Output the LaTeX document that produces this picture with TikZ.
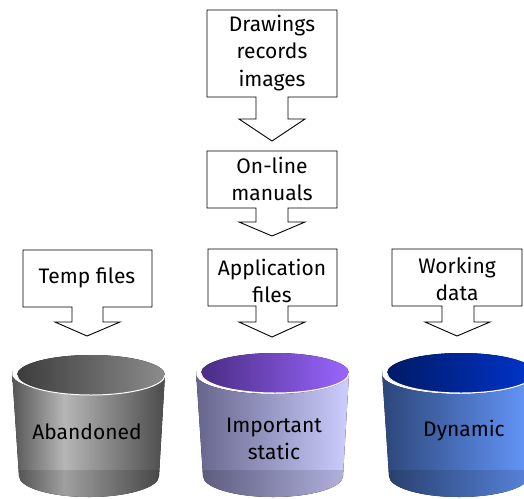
\documentclass[tikz,border=0pt]{standalone}
\usepackage{fontspec}
\setmainfont{Fira Sans}
\definecolor{gray1}{HTML}{555555}
\definecolor{gray2}{HTML}{B6B6B6}
\definecolor{gray3}{HTML}{4C4C4C}
\definecolor{graytopL}{HTML}{3C3C3C}
\definecolor{graytopR}{HTML}{8C8C8C}
\definecolor{purp1}{HTML}{66668C}
\definecolor{purp2}{HTML}{CDCDFF}
\definecolor{purptopL}{HTML}{4A2C84}
\definecolor{purptopR}{HTML}{9A66FF}
\definecolor{blue1}{HTML}{2C4678}
\definecolor{blue2}{HTML}{6699FF}
\definecolor{bluetopL}{HTML}{001A66}
\definecolor{bluetopR}{HTML}{0034CC}
\pgfdeclarehorizontalshading{graybody}{100bp}{color(0bp)=(gray1);color(25bp)=(gray1);color(42bp)=(gray2);color(75bp)=(gray3);color(100bp)=(gray3)}
\pgfdeclarehorizontalshading{purpbody}{100bp}{color(0bp)=(purp1);color(25bp)=(purp1);color(75bp)=(purp2);color(100bp)=(purp2)}
\pgfdeclarehorizontalshading{bluebody}{100bp}{color(0bp)=(blue1);color(25bp)=(blue1);color(75bp)=(blue2);color(100bp)=(blue2)}
\tikzset{
  callout/.style={draw=black, line width=0.9pt, fill=white, line join=miter},
  lbl/.style={font=\fontsize{21}{27.5}\selectfont, align=center, text=black, inner sep=0pt},
  rimline/.style={draw=white, line width=1pt},
  shade/.style={fill=black, fill opacity=0.12}
}
% #1 body cx, #2 ellipse cx, #3 ellipse cy, #4 body shading, #5 top left colour, #6 top right colour
\newcommand\drawbucket[6]{%
  \fill[shading=#4] (#1-77,371) -- (#1-70,476)
     arc[start angle=180, end angle=0, x radius=70, y radius=21]
     -- (#1+76,374) arc[start angle=0, end angle=180, x radius=76.5, y radius=20] -- cycle;
  \fill[shade] (#1-70.5,470) -- (#1-70,476)
     arc[start angle=180, end angle=0, x radius=70, y radius=21]
     -- (#1+70.5,470) -- cycle;
  \fill[left color=#5, right color=#6] (#2,#3) ellipse[x radius=74, y radius=20];
  \draw[rimline] (#2+74,#3) arc[start angle=0, end angle=180, x radius=74, y radius=20];
}
\begin{document}
\begin{tikzpicture}[x=1pt, y=-1pt]
\useasboundingbox (0,0) rectangle (524,498);
\begin{scope}
\clip (0,0) rectangle (524,498);
% callouts
\draw[callout] (207,10) -- (337,10) -- (337,97) -- (288,97) -- (288,119) -- (305,119) -- (272,141)
   -- (239,119) -- (256,119) -- (256,97) -- (207,97) -- cycle;
\draw[callout] (207,151) -- (337,151) -- (337,208) -- (288,208) -- (288,222) -- (305,222) -- (272,236)
   -- (239,222) -- (256,222) -- (256,208) -- (207,208) -- cycle;
\draw[callout] (208,249) -- (337,249) -- (337,306) -- (288,306) -- (288,322) -- (305,322) -- (272,337)
   -- (239,322) -- (256,322) -- (256,306) -- (208,306) -- cycle;
\draw[callout] (23,250) -- (152,250) -- (152,307) -- (103,307) -- (103,322) -- (120,322) -- (87,336)
   -- (55,322) -- (72,322) -- (72,307) -- (23,307) -- cycle;
\draw[callout] (392,249) -- (522,249) -- (522,306) -- (474,306) -- (474,322) -- (490,322) -- (457,336)
   -- (425,322) -- (442,322) -- (442,306) -- (392,306) -- cycle;
\node[lbl] (drw) at (272,53) {Drawings\\records\\images};
\node[lbl] (man) at (272,179) {On-line\\manuals};
\node[lbl] (app) at (272,281) {Application\\files};
\node[lbl] (tmp) at (87,278) {Temp files};
\node[lbl] (wrk) at (457,279) {Working\\data};
% buckets
\drawbucket{89}{91}{375}{graybody}{graytopL}{graytopR}
\drawbucket{273}{275}{373}{purpbody}{purptopL}{purptopR}
\drawbucket{459}{461}{373}{bluebody}{bluetopL}{bluetopR}
\node[lbl] (abd) at (87,432) {Abandoned};
\node[lbl] (imp) at (274,439) {Important\\static};
\node[lbl] (dyn) at (464,431) {Dynamic};
\end{scope}
\end{tikzpicture}
\end{document}
